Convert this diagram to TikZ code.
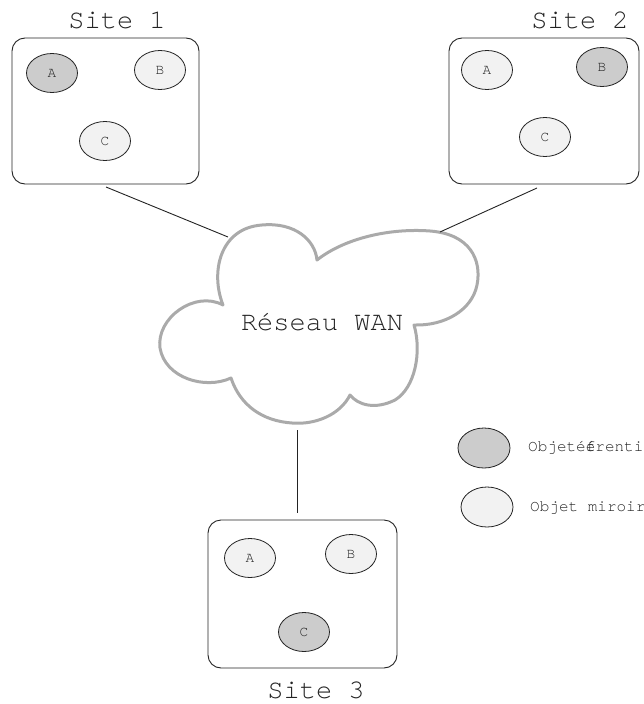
\documentclass[tikz,border=0pt]{standalone}
\usepackage{fontspec}
\setmonofont{TeX Gyre Cursor}
\usetikzlibrary{shapes.geometric}
\definecolor{objdark}{RGB}{204,204,204}
\definecolor{objlight}{RGB}{242,242,242}
\definecolor{cloudline}{RGB}{170,170,170}
\definecolor{inkgray}{RGB}{35,35,35}
\tikzset{
  sitebox/.style={draw=inkgray, line width=0.9pt, rounded corners=13pt, inner sep=0pt},
  obj/.style={ellipse, draw=inkgray, line width=0.8pt, inner sep=0pt,
    minimum width=51pt, minimum height=39pt, text=inkgray,
    font=\fontsize{14.5}{14.5}\ttfamily},
  refobj/.style={obj, fill=objdark},
  mirobj/.style={obj, fill=objlight},
  sitelabel/.style={font=\fontsize{27}{27}\ttfamily, text=inkgray, inner sep=0pt},
  legendtext/.style={font=\fontsize{16}{16}\ttfamily, text=inkgray, inner sep=0pt, anchor=west},
  link/.style={draw=inkgray, line width=0.9pt},
}
\begin{document}
\begin{tikzpicture}[x=1pt, y=-1pt]
\useasboundingbox (0,0) rectangle (644,704);

% Sites
\node[sitebox, minimum width=187pt, minimum height=146pt] (s1) at (105.5,111) {};
\node[sitebox, minimum width=190pt, minimum height=146pt] (s2) at (544,111) {};
\node[sitebox, minimum width=189pt, minimum height=148pt] (s3) at (302.5,594) {};

\node[sitelabel] (s1lab) at (117,20) {Site 1};
\node[sitelabel] (s2lab) at (580,20) {Site 2};
\node[sitelabel] (s3lab) at (316,690) {Site 3};

% Objects in each site
\node[refobj] (s1a) at (52,73) {A};
\node[mirobj] (s1b) at (160,70) {B};
\node[mirobj] (s1c) at (105,141) {C};

\node[mirobj] (s2a) at (487,70) {A};
\node[refobj] (s2b) at (602,67) {B};
\node[mirobj] (s2c) at (545,137) {C};

\node[mirobj] (s3a) at (250,558) {A};
\node[mirobj] (s3b) at (351,554) {B};
\node[refobj] (s3c) at (304,632) {C};

% WAN cloud
\draw[cloudline, line width=3pt, line join=round]
  (223,305) .. controls (210,272) and (220,228) .. (262,225)
  .. controls (295,222) and (315,240) .. (317,260)
  .. controls (345,238) and (390,228) .. (430,231)
  .. controls (470,234) and (482,260) .. (477,285)
  .. controls (472,310) and (445,326) .. (414,325)
  .. controls (422,352) and (415,388) .. (395,400)
  .. controls (375,410) and (358,405) .. (350,395)
  .. controls (340,415) and (315,425) .. (292,423)
  .. controls (262,421) and (240,405) .. (231,378)
  .. controls (205,390) and (165,378) .. (160,348)
  .. controls (156,318) and (195,290) .. (223,305) -- cycle;
\node[sitelabel] (wan) at (322,322) {Réseau WAN};

% Attachment points on the cloud
\coordinate (c1) at (228,237);
\coordinate (c2) at (440,232);
\coordinate (c3) at (297,430);
\coordinate (e1) at (106,187);
\coordinate (e2) at (537,188);
\coordinate (e3) at (297,513);

\draw[link] (e1) -- (c1);
\draw[link] (e2) -- (c2);
\draw[link] (c3) -- (e3);

% Legend
\node[refobj, minimum width=52pt, minimum height=40pt] (legref) at (484,448) {};
\node[mirobj, minimum width=52pt, minimum height=40pt] (legmir) at (487,507) {};
\node[legendtext] (legreft) at (528,448) {Objeté\rlap{é}frentiel};
\node[legendtext] (legmirt) at (530,508) {Objet miroir};
\end{tikzpicture}
\end{document}
